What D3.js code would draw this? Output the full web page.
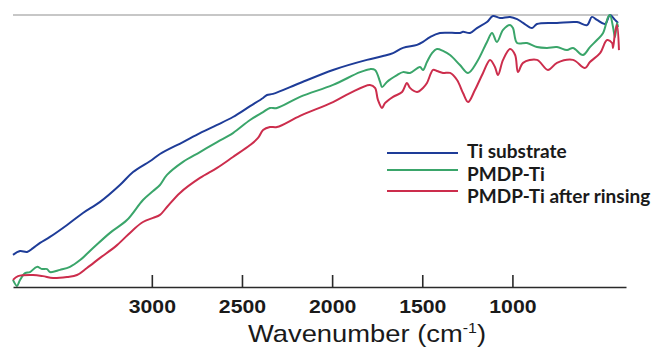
<!DOCTYPE html>
<html>
<head>
<meta charset="utf-8">
<script src="https://d3js.org/d3.v7.min.js"></script>
<style>
  html, body { margin: 0; padding: 0; background: #fff; }
  svg { display: block; }
</style>
</head>
<body>
<svg id="chart" width="654" height="349"></svg>
<script>
// [wavenumber (cm-1), transmittance (%)]
const tiSubstrate = [
  [3770, 11.8], [3731, 13.2], [3692, 12.9], [3659, 14.3], [3620, 16.2], [3565, 18.4],
  [3470, 22.8], [3382, 27.2], [3287, 31.3], [3177, 37.5], [3104, 42.3], [3000, 46.7],
  [2955, 48.9], [2827, 53.3], [2733, 56.6], [2638, 59.6], [2550, 62.5], [2455, 66.5],
  [2383, 69.5], [2361, 70.6], [2328, 71.0], [2178, 75.0], [1995, 79.8], [1807, 83.5],
  [1718, 84.9], [1662, 86.0], [1607, 87.9], [1529, 89.0], [1496, 90.1], [1457, 91.9],
  [1402, 93.4], [1291, 93.4], [1274, 93.8], [1235, 93.4], [1197, 95.2], [1141, 97.4],
  [1108, 99.6], [1069, 98.9], [1013, 99.3], [974, 98.5], [941, 97.1], [891, 95.2],
  [864, 96.7], [753, 97.1], [642, 97.4], [586, 96.3], [559, 99.3], [531, 98.2],
  [486, 96.7], [459, 100], [431, 98.2], [414, 97.1]
];

const pmdpTi = [
  [3770, 2.6], [3748, 0.4], [3731, 2.6], [3703, 5.1], [3676, 5.5], [3637, 7.4],
  [3609, 6.6], [3581, 6.6], [3565, 5.5], [3509, 6.3], [3454, 7.4], [3398, 9.9],
  [3326, 14.3], [3232, 19.9], [3138, 24.6], [3049, 32.0], [2993, 35.3], [2955, 37.5],
  [2916, 41.2], [2827, 46.0], [2733, 49.6], [2638, 53.3], [2550, 56.6], [2455, 61.4],
  [2383, 64.3], [2345, 65.8], [2306, 65.8], [2178, 69.9], [1995, 74.3], [1845, 79.0],
  [1790, 80.1], [1762, 79.8], [1734, 75.4], [1723, 73.5], [1696, 75.4], [1640, 77.9],
  [1607, 79.0], [1568, 78.7], [1513, 80.9], [1496, 79.8], [1474, 82.7], [1446, 86.0],
  [1418, 87.5], [1385, 86.8], [1346, 85.3], [1291, 81.6], [1246, 78.7], [1197, 82.7],
  [1141, 90.1], [1113, 93.4], [1086, 90.1], [1052, 94.5], [1013, 96.3], [997, 95.2],
  [974, 89.7], [919, 89.7], [864, 88.2], [808, 87.9], [753, 88.2], [697, 87.1],
  [664, 87.9], [609, 85.3], [570, 88.2], [531, 90.8], [497, 93.4], [469, 99.3],
  [459, 100], [442, 95.6], [431, 91.9], [420, 97.1], [414, 95.6]
];

const pmdpTiRinsed = [
  [3770, 2.6], [3742, 4.0], [3659, 4.4], [3604, 4.0], [3548, 3.3], [3470, 3.7],
  [3415, 4.4], [3360, 7.0], [3287, 10.7], [3193, 15.4], [3104, 21.0], [3049, 23.9],
  [2993, 25.4], [2955, 26.5], [2916, 29.4], [2844, 34.6], [2733, 40.1], [2638, 43.8],
  [2550, 47.8], [2455, 52.2], [2411, 54.8], [2383, 57.7], [2345, 58.8], [2306, 58.8],
  [2178, 62.9], [1995, 68.0], [1901, 71.3], [1790, 74.3], [1762, 73.2], [1746, 68.8],
  [1723, 65.8], [1707, 67.6], [1662, 69.9], [1612, 71.7], [1585, 75.0], [1568, 73.2],
  [1529, 71.7], [1496, 73.2], [1474, 75.0], [1440, 79.8], [1418, 79.4], [1385, 78.7],
  [1346, 78.7], [1307, 76.1], [1274, 71.3], [1246, 68.0], [1208, 72.4], [1163, 78.7],
  [1124, 83.5], [1097, 80.9], [1080, 77.9], [1052, 83.5], [1013, 87.5], [985, 85.3],
  [969, 79.0], [941, 82.4], [864, 83.5], [803, 79.8], [753, 82.4], [664, 83.5],
  [598, 80.5], [570, 82.7], [514, 86.0], [475, 90.8], [447, 89.7], [442, 87.9],
  [431, 93.4], [420, 96.3], [409, 87.1]
];

const seriesNames = ['Ti substrate', 'PMDP-Ti', 'PMDP-Ti after rinsing'];
const seriesColors = ['#1e3c98', '#3aa56a', '#cc2d4c'];
const tickValues = [3000, 2500, 2000, 1500, 1000];

const svg = d3.select('#chart');

// wavenumber runs high -> low, left to right
const x = d3.scaleLinear().domain([3770, 370]).range([13, 626]);
const y = d3.scaleLinear().domain([0, 100]).range([287, 15]);

// faint 100% reference line along the top
svg.append('line')
    .attr('x1', x(3770)).attr('x2', x(414))
    .attr('y1', y(100)).attr('y2', y(100))
    .attr('stroke', '#b4b4b4')
    .attr('stroke-width', 1.3);

const line = d3.line()
    .curve(d3.curveCatmullRom.alpha(0.5))
    .x(d => x(d[0]))
    .y(d => y(d[1]));

const allSeries = [tiSubstrate, pmdpTi, pmdpTiRinsed];

svg.selectAll('path.spectrum')
    .data(allSeries)
    .enter().append('path')
    .attr('class', 'spectrum')
    .attr('d', line)
    .attr('fill', 'none')
    .attr('stroke', (d, i) => seriesColors[i])
    .attr('stroke-width', 2)
    .attr('stroke-linejoin', 'round');

// bottom axis, ticks pointing up into the plot
const xAxis = d3.axisBottom(x)
    .tickValues(tickValues)
    .tickFormat(d3.format('d'))
    .tickSize(-12)
    .tickSizeOuter(0)
    .tickPadding(13);

const axisEl = svg.append('g')
    .attr('transform', 'translate(0,' + y(0) + ')')
    .call(xAxis);

axisEl.select('.domain')
    .attr('stroke', '#2a2a2a')
    .attr('stroke-width', 1.6);
axisEl.selectAll('.tick line')
    .attr('stroke', '#2a2a2a')
    .attr('stroke-width', 1.6);
axisEl.selectAll('.tick text')
    .attr('fill', '#1a1a1a')
    .attr('font-family', '"Liberation Sans", Arial, sans-serif')
    .attr('font-weight', 'bold')
    .attr('font-size', 18)
    .attr('transform', 'scale(1.18,1)');

// axis title
const title = svg.append('g')
    .attr('transform', 'translate(367,342) scale(1.14,1)')
    .append('text')
    .attr('text-anchor', 'middle')
    .attr('fill', '#1a1a1a')
    .attr('font-family', '"Liberation Sans", Arial, sans-serif')
    .attr('font-size', 24);
title.append('tspan').text('Wavenumber (cm');
title.append('tspan').attr('font-size', 14).attr('dy', -9).text('-1');
title.append('tspan').attr('dy', 9).text(')');

// legend
const legendLineY = [153, 170, 191];
const legendTextY = [158, 181, 203];

const legend = svg.append('g');
seriesNames.forEach((name, i) => {
  legend.append('line')
      .attr('x1', 387).attr('x2', 458)
      .attr('y1', legendLineY[i]).attr('y2', legendLineY[i])
      .attr('stroke', seriesColors[i])
      .attr('stroke-width', 2);
  legend.append('text')
      .attr('x', 467)
      .attr('y', legendTextY[i])
      .attr('fill', '#1a1a1a')
      .attr('font-family', 'Lato, "Open Sans", sans-serif')
      .attr('font-weight', 'bold')
      .attr('font-size', 19)
      .text(name);
});
</script>
</body>
</html>
